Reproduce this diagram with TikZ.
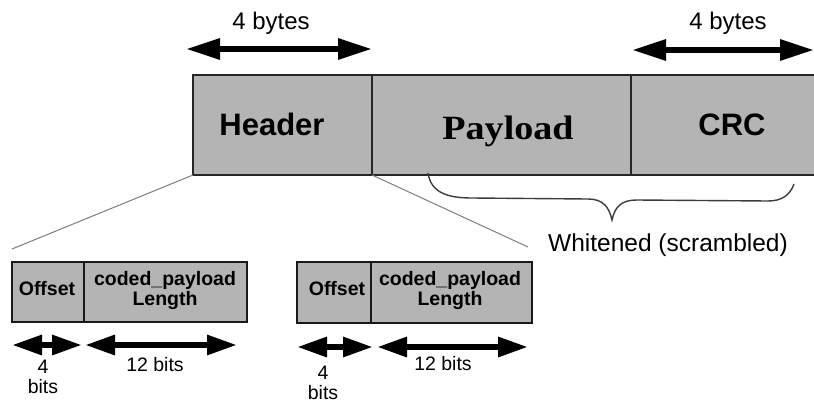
\documentclass[tikz,border=0pt]{standalone}
\usepackage{fontspec}
\setmainfont{Liberation Sans}
\newfontfamily\serifface{Liberation Serif}
\usetikzlibrary{arrows.meta}
\definecolor{boxgray}{RGB}{180,180,180}
\definecolor{linegray}{RGB}{125,125,125}
\definecolor{bracegray}{RGB}{60,60,60}
\begin{document}
\begin{tikzpicture}[x=1pt,y=-1pt,
  field/.style={draw=black!85, line width=1.5pt, fill=boxgray, inner sep=0pt, outer sep=0pt, minimum height=100pt, anchor=north west},
  subfield/.style={draw=black!90, line width=1.8pt, fill=boxgray, inner sep=0pt, outer sep=0pt, anchor=north west},
  bigtxt/.style={font=\bfseries\fontsize{31}{31}\selectfont, anchor=base, inner sep=0pt},
  midtxt/.style={font=\fontsize{24}{24}\selectfont, anchor=base, inner sep=0pt},
  smalltxt/.style={font=\bfseries\fontsize{19.5}{19.5}\selectfont, anchor=base, inner sep=0pt},
  bittxt/.style={font=\fontsize{19.5}{19.5}\selectfont, anchor=base, inner sep=0pt},
  bigarrow/.style={line width=6pt, {Triangle[length=34pt,width=20pt]}-{Triangle[length=34pt,width=20pt]}},
  smallarrow/.style={line width=6pt, {Triangle[length=30pt,width=19pt]}-{Triangle[length=30pt,width=19pt]}},
  thinline/.style={draw=linegray, line width=1pt},
  bracepath/.style={draw=bracegray, line width=1.4pt}]
\useasboundingbox (0,0) rectangle (814,402);

% top frame
\node[field, minimum width=179pt] (header) at (193,75) {};
\node[field, minimum width=259pt] (payload) at (372,75) {};
\node[field, minimum width=189pt] (crc) at (631,75) {};
\node[bigtxt] (headertxt) at (272,135) {Header};
\node[bigtxt, font=\serifface\bfseries\fontsize{34}{34}\selectfont, xscale=1.12] (payloadtxt) at (508,139) {Payload};
\node[bigtxt] (crctxt) at (732,135) {CRC};

% byte arrows
\coordinate (a1) at (186,49);
\coordinate (a2) at (372,49);
\coordinate (a3) at (632,50);
\coordinate (a4) at (814,50);
\draw[bigarrow] (a1) -- (a2);
\draw[bigarrow] (a3) -- (a4);
\node[midtxt] (bytesL) at (271,29) {4 bytes};
\node[midtxt] (bytesR) at (728,29) {4 bytes};

% expansion lines
\coordinate (lnA) at (12,249);
\coordinate (lnB) at (528,247);
\draw[thinline] (header.south west) -- (lnA);
\draw[thinline] (header.south east) -- (lnB);

% brace
\coordinate (bs) at (428,173);
\coordinate (tip) at (612,220);
\coordinate (be) at (794,184);
\draw[bracepath] (bs) .. controls (431,192) and (446,198) .. (472,198)
  -- (588,199) .. controls (602,199) and (609,206) .. (tip)
  .. controls (615,206) and (622,200) .. (637,200)
  -- (768,201) .. controls (782,201) and (790,195) .. (be);
\node[font=\fontsize{24.5}{24.5}\selectfont, anchor=base, inner sep=0pt] (whitened) at (668,251) {Whitened (scrambled)};

% left expanded header
\node[subfield, minimum width=72pt, minimum height=60pt] (off1) at (12,262) {};
\node[subfield, minimum width=163pt, minimum height=60pt] (len1) at (84,262) {};
\node[smalltxt] (off1t) at (47,295) {Offset};
\node[smalltxt] (len1a) at (165,285) {coded\_payload};
\node[smalltxt] (len1b) at (165,305) {Length};
\coordinate (b1) at (12,345);
\coordinate (b2) at (82,345);
\coordinate (b3) at (85,345);
\coordinate (b4) at (237,345);
\draw[smallarrow] (b1) -- (b2);
\draw[smallarrow] (b3) -- (b4);
\node[bittxt] (four1) at (43,373) {4};
\node[bittxt] (bits1) at (43,393) {bits};
\node[bittxt] (twelve1) at (155,371) {12 bits};

% right expanded header
\node[subfield, minimum width=74pt, minimum height=61pt] (off2) at (297,262) {};
\node[subfield, minimum width=161pt, minimum height=61pt] (len2) at (371,262) {};
\node[smalltxt] (off2t) at (337,295) {Offset};
\node[smalltxt] (len2a) at (450,285) {coded\_payload};
\node[smalltxt] (len2b) at (450,305) {Length};
\coordinate (c1) at (297,347);
\coordinate (c2) at (373,347);
\coordinate (c3) at (377,347);
\coordinate (c4) at (528,347);
\draw[smallarrow] (c1) -- (c2);
\draw[smallarrow] (c3) -- (c4);
\node[bittxt] (four2) at (323,379) {4};
\node[bittxt] (bits2) at (323,399) {bits};
\node[bittxt] (twelve2) at (443,370) {12 bits};
\end{tikzpicture}
\end{document}
